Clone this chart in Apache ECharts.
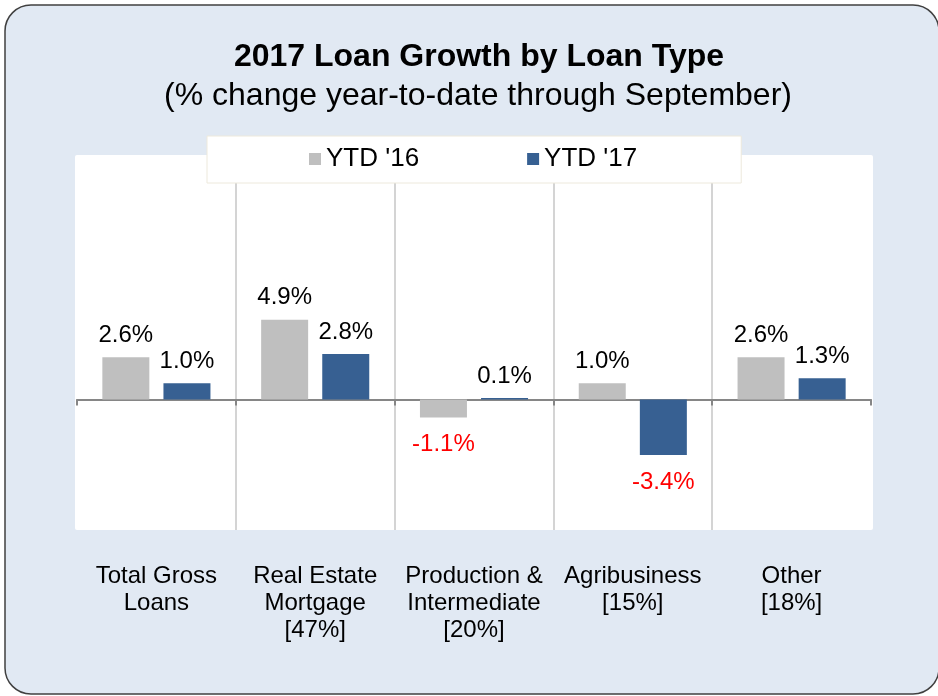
<!DOCTYPE html>
<html>
<head>
<meta charset="utf-8">
<script src="https://cdn.jsdelivr.net/npm/echarts@6/dist/echarts.min.js"></script>
<style>
  html, body { margin: 0; padding: 0; background: #fff; }
  #chart { width: 938px; height: 696px; }
</style>
</head>
<body>
<div id="chart"></div>
<script>
// loan types along the x axis
var categories = [
  'Total Gross\nLoans',
  'Real Estate\nMortgage\n[47%]',
  'Production &\nIntermediate\n[20%]',
  'Agribusiness\n[15%]',
  'Other\n[18%]'
]
var seriesNames = ["YTD '16", "YTD '17"]
var ytd16 = [2.6, 4.9, -1.1, 1.0, 2.6]
var ytd17 = [1.0, 2.8, 0.1, -3.4, 1.3]

var chart = echarts.init(document.getElementById('chart'))

// negative values get a red label under the bar
function barData(list) {
  return list.map(function (v) {
    if (v < 0) {
      return { value: v, label: { position: 'bottom', distance: 15, color: '#ff0000' } }
    }
    return v
  })
}

var barLabel = {
  show: true,
  position: 'top',
  distance: 10,
  fontSize: 24,
  color: '#000',
  formatter: function (p) { return p.value.toFixed(1) + '%' }
}

chart.setOption({
  animation: false,
  textStyle: { fontFamily: 'Liberation Sans, Arial, sans-serif' },
  graphic: {
    elements: [
      {
        type: 'rect',
        z: -10,
        silent: true,
        shape: { x: 5, y: 5, width: 934, height: 689, r: 26 },
        style: { fill: '#e1e9f3', stroke: '#404040', lineWidth: 1.5 }
      },
      {
        // white plot area
        type: 'rect',
        z: -5,
        silent: true,
        shape: { x: 75, y: 155, width: 798, height: 375, r: 2 },
        style: { fill: '#fff' }
      }
    ]
  },
  title: [
    {
      text: '2017 Loan Growth by Loan Type',
      left: 474,
      textAlign: 'center',
      top: 36,
      textStyle: { fontSize: 32, fontWeight: 'bold', color: '#000' }
    },
    {
      text: '(% change year-to-date through September)',
      left: 473,
      textAlign: 'center',
      top: 75,
      textStyle: { fontSize: 32, fontWeight: 'normal', color: '#000' }
    }
  ],
  legend: {
    data: seriesNames,
    left: 207,
    top: 136,
    padding: [10, 104, 11, 102],
    itemGap: 108,
    itemWidth: 12,
    itemHeight: 12,
    icon: 'rect',
    backgroundColor: '#fff',
    borderColor: '#ede9dc',
    borderWidth: 1,
    textStyle: { fontSize: 26, color: '#000' }
  },
  grid: {
    left: 77,
    right: 67,
    top: 155,
    height: 375
  },
  xAxis: [
    {
      type: 'category',
      data: categories,
      axisLine: { onZero: true, lineStyle: { color: '#868686', width: 2 } },
      axisTick: { show: true, length: 6, lineStyle: { color: '#868686', width: 2 } },
      axisLabel: { show: false },
      splitLine: {
        show: true,
        showMinLine: false,
        showMaxLine: false,
        lineStyle: { color: '#d4d4d4', width: 2 }
      }
    },
    {
      type: 'category',
      data: categories,
      position: 'bottom',
      axisLine: { show: false, onZero: false },
      axisTick: { show: false },
      axisLabel: { interval: 0, fontSize: 24, lineHeight: 27, color: '#000', margin: 33 }
    }
  ],
  yAxis: {
    type: 'value',
    min: -8,
    max: 15,
    show: false,
    splitLine: { show: false }
  },
  series: [
    {
      name: seriesNames[0],
      type: 'bar',
      barWidth: 47,
      barGap: '30%',
      itemStyle: { color: '#bfbfbf' },
      label: barLabel,
      data: barData(ytd16)
    },
    {
      name: seriesNames[1],
      type: 'bar',
      barWidth: 47,
      itemStyle: { color: '#376092' },
      label: barLabel,
      data: barData(ytd17)
    }
  ]
})
</script>
</body>
</html>
